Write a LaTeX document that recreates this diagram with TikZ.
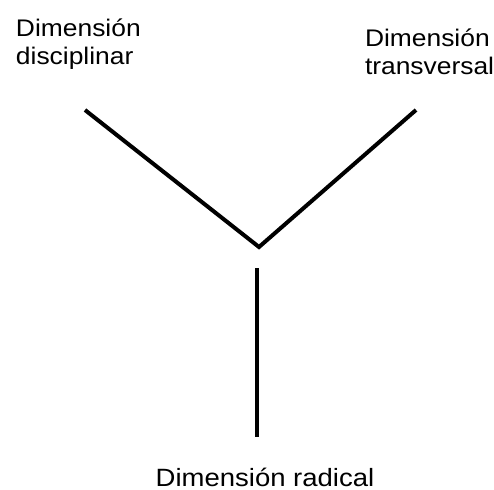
\documentclass[tikz,border=0pt]{standalone}
\usepackage{fontspec}
\setmainfont{Liberation Sans}[FakeStretch=1.1]
\usetikzlibrary{positioning}

\begin{document}
\begin{tikzpicture}[x=1pt,y=-1pt,line width=4pt,
    dimlabel/.style={font=\fontsize{24}{28}\selectfont,inner sep=0pt,align=left}]
    \useasboundingbox (0,0) rectangle (494,489);
    \node[dimlabel,anchor=base west] (disc) at (14,65) {Dimensión\\disciplinar};
    \node[dimlabel,anchor=base west] (trans) at (363,75) {Dimensión\\transversal};
    \node[dimlabel,anchor=base,font=\fontsize{25}{30}\selectfont] (rad) at (265,486) {Dimensión radical};

    \coordinate (discend) at (85,110);
    \coordinate (transend) at (416,110);
    \coordinate (apex) at (259,247);
    \coordinate (radtop) at (257,268);
    \coordinate (radend) at (257,437);

    \draw (discend) -- (apex) -- (transend);
    \draw (radtop) -- (radend);
\end{tikzpicture}
\end{document}
